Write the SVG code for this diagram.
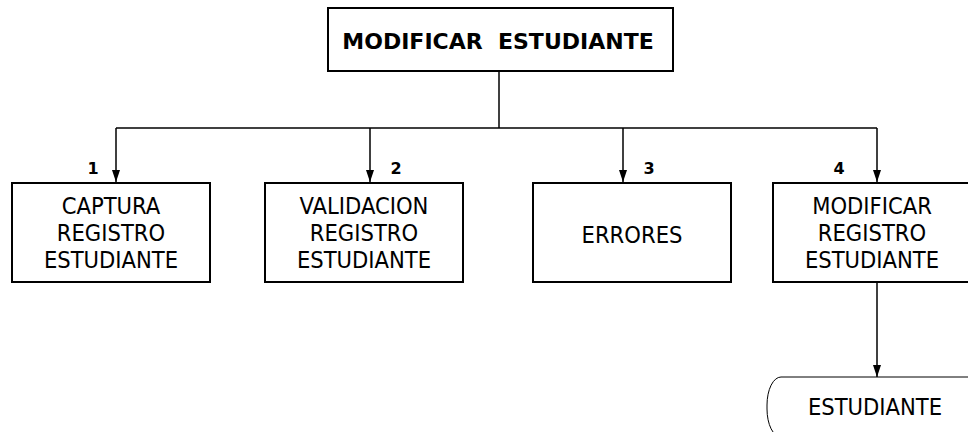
<svg xmlns="http://www.w3.org/2000/svg" width="968" height="432" viewBox="0 0 968 432">
<style>
.box{fill:#fff;stroke:#000;stroke-width:2}
.t{font-family:"DejaVu Sans Condensed","DejaVu Sans",sans-serif;font-stretch:condensed;font-size:23.5px;fill:#000;text-anchor:middle}
.tb{font-family:"DejaVu Sans",Verdana,sans-serif;font-size:22px;font-weight:bold;fill:#000;text-anchor:middle;white-space:pre}
.n{font-family:"DejaVu Sans",Verdana,sans-serif;font-size:16px;font-weight:bold;fill:#000;text-anchor:middle}
.c{fill:none;stroke:#000;stroke-width:1.5}
</style>
<defs>
<marker id="ah" markerWidth="12" markerHeight="8" refX="12" refY="4" orient="auto" markerUnits="userSpaceOnUse" viewBox="0 0 12 8">
<path d="M0,0 L12,4 L0,8 Z" fill="#000"/>
</marker>
</defs>
<rect width="968" height="432" fill="#fff"/>
<g id="connectors">
<path class="c" d="M499,71 V128"/>
<path class="c" d="M116,128 H877"/>
<path class="c" d="M116,128 V182" marker-end="url(#ah)"/>
<path class="c" d="M370,128 V182" marker-end="url(#ah)"/>
<path class="c" d="M623,128 V182" marker-end="url(#ah)"/>
<path class="c" d="M877,128 V182" marker-end="url(#ah)"/>
<path class="c" d="M877,282 V377" marker-end="url(#ah)"/>
</g>
<g id="title">
<rect class="box" x="328" y="8" width="345" height="63"/>
<text class="tb" x="498" y="49" xml:space="preserve">MODIFICAR  ESTUDIANTE</text>
</g>
<g id="n1">
<rect class="box" x="12" y="183" width="198" height="99"/>
<text class="n" x="93" y="174">1</text>
<text class="t" x="111" y="214">CAPTURA</text>
<text class="t" x="111" y="241">REGISTRO</text>
<text class="t" x="111" y="268">ESTUDIANTE</text>
</g>
<g id="n2">
<rect class="box" x="265" y="183" width="198" height="99"/>
<text class="n" x="396" y="174">2</text>
<text class="t" x="364" y="214">VALIDACION</text>
<text class="t" x="364" y="241">REGISTRO</text>
<text class="t" x="364" y="268">ESTUDIANTE</text>
</g>
<g id="n3">
<rect class="box" x="533" y="183" width="198" height="99"/>
<text class="n" x="649" y="174">3</text>
<text class="t" x="632" y="243">ERRORES</text>
</g>
<g id="n4">
<rect class="box" x="773" y="183" width="198" height="99"/>
<text class="n" x="839" y="174">4</text>
<text class="t" x="872" y="214">MODIFICAR</text>
<text class="t" x="872" y="241">REGISTRO</text>
<text class="t" x="872" y="268">ESTUDIANTE</text>
</g>
<g id="estudiante">
<rect x="767" y="377" width="216" height="60" rx="14" ry="28" fill="#fff" stroke="#000" stroke-width="1"/>
<text class="t" x="875" y="415">ESTUDIANTE</text>
</g>
</svg>
